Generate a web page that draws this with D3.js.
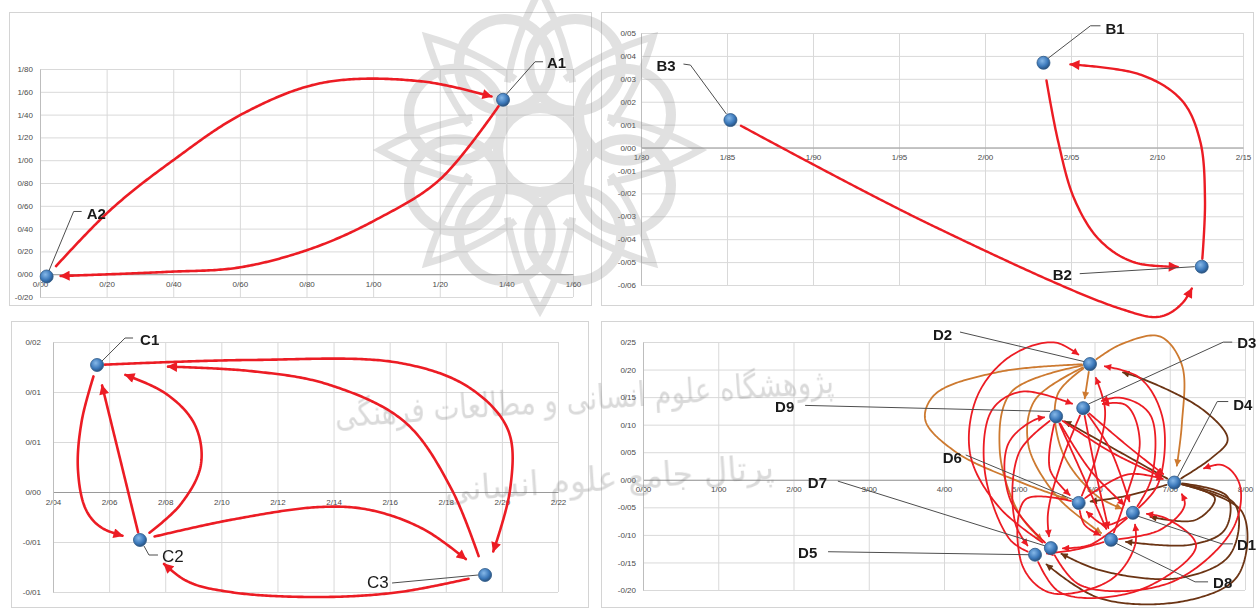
<!DOCTYPE html>
<html>
<head>
<meta charset="utf-8">
<script src="https://cdn.jsdelivr.net/npm/d3@7"></script>
<style>
  body { margin: 0; background: #ffffff; }
  svg { display: block; }
</style>
</head>
<body>
<svg id="chart" width="1258" height="609"></svg>
<script>
// ---------------- data ----------------
// Panel A
const pointsA = [
  { id: "A1", x: 1.39, y: 1.53 },
  { id: "A2", x: 0.02, y: -0.02 }
];
const xTicksA = [0, 0.2, 0.4, 0.6, 0.8, 1.0, 1.2, 1.4, 1.6];
const xLabelsA = ["0/00", "0/20", "0/40", "0/60", "0/80", "1/00", "1/20", "1/40", "1/60"];
const yTicksA = [-0.2, 0, 0.2, 0.4, 0.6, 0.8, 1.0, 1.2, 1.4, 1.6, 1.8];
const yLabelsA = ["-0/20", "0/00", "0/20", "0/40", "0/60", "0/80", "1/00", "1/20", "1/40", "1/60", "1/80"];
const edgesA = [
  { from: "A2", to: "A1", kind: "r", via: [[0.21, 0.56], [0.40, 1.00], [0.61, 1.41], [0.85, 1.68], [1.15, 1.69]], trim: [14, 12] },
  { from: "A1", to: "A2", kind: "r", via: [[1.20, 0.83], [1.01, 0.48], [0.82, 0.23], [0.60, 0.06], [0.38, 0.02]], trim: [8, 14] }
];

// Panel B
const pointsB = [
  { id: "B1", x: 2.034, y: 0.037 },
  { id: "B2", x: 2.126, y: -0.052 },
  { id: "B3", x: 1.852, y: 0.012 }
];
const xTicksB = [1.80, 1.85, 1.90, 1.95, 2.00, 2.05, 2.10, 2.15];
const xLabelsB = ["1/80", "1/85", "1/90", "1/95", "2/00", "2/05", "2/10", "2/15"];
const yTicksB = [-0.06, -0.05, -0.04, -0.03, -0.02, -0.01, 0, 0.01, 0.02, 0.03, 0.04, 0.05];
const yLabelsB = ["-0/06", "-0/05", "-0/04", "-0/03", "-0/02", "-0/01", "0/00", "0/01", "0/02", "0/03", "0/04", "0/05"];
const edgesB = [
  { from: "B3", to: "B2", kind: "r", via: [[1.967, -0.0332], [2.0785, -0.0703], [2.1017, -0.0738], [2.115, -0.0677]], trim: [12, 24] },
  { from: "B1", to: "B2", kind: "r", via: [[2.0424, 0.0031], [2.0523, -0.0231], [2.0669, -0.0406], [2.0872, -0.0502]], trim: [18, 24] },
  { from: "B2", to: "B1", kind: "r", via: [[2.1279, -0.0231], [2.1250, 0.0031], [2.1145, 0.0205], [2.0901, 0.0319]], trim: [8, 27] }
];

// Panel C
const pointsC = [
  { id: "C1", x: 2.0557, y: 0.0127 },
  { id: "C2", x: 2.071, y: -0.0048 },
  { id: "C3", x: 2.194, y: -0.0083 }
];
const xTicksC = [2.04, 2.06, 2.08, 2.10, 2.12, 2.14, 2.16, 2.18, 2.20, 2.22];
const xLabelsC = ["2/04", "2/06", "2/08", "2/10", "2/12", "2/14", "2/16", "2/18", "2/20", "2/22"];
const yTicksC = [-0.01, -0.005, 0, 0.005, 0.01, 0.015];
const yLabelsC = ["-0/01", "-0/01", "0/00", "0/01", "0/01", "0/02"];
const edgesC = [
  { from: "C1", to: "C2", kind: "r", via: [[2.0503, 0.0072], [2.0489, 0.0022], [2.0518, -0.0018], [2.0575, -0.0036]], trim: [12, 18] },
  { from: "C2", to: "C1", kind: "r", via: [], trim: [8, 21] },
  { from: "C2", to: "C1", kind: "r", via: [[2.0853, -0.0013], [2.0927, 0.0027], [2.0906, 0.0067], [2.0799, 0.0099]], trim: [12, 30] },
  { from: "C1", to: "C3", kind: "r", via: [[2.1102, 0.0132], [2.1637, 0.0129], [2.1886, 0.0104], [2.2022, 0.0062], [2.2029, 0.0002]], trim: [8, 25] },
  { from: "C3", to: "C1", kind: "r", via: [[2.1822, 0.0002], [2.1654, 0.0070], [2.1387, 0.0107], [2.1102, 0.0121]], trim: [20, 71] },
  { from: "C2", to: "C3", kind: "r", via: [[2.1031, -0.0028], [2.1352, -0.0015], [2.1530, -0.0018], [2.1726, -0.0038]], trim: [15, 25] },
  { from: "C3", to: "C2", kind: "r", via: [[2.1637, -0.0100], [2.1352, -0.0105], [2.1031, -0.0100], [2.0870, -0.0088]], trim: [17, 34] }
];

// Panel D
const pointsD = [
  { id: "D1", x: 6.51, y: -0.060 },
  { id: "D2", x: 5.94, y: 0.210 },
  { id: "D3", x: 5.85, y: 0.130 },
  { id: "D4", x: 7.06, y: -0.005 },
  { id: "D5", x: 5.21, y: -0.136 },
  { id: "D6", x: 5.79, y: -0.042 },
  { id: "D7", x: 5.42, y: -0.124 },
  { id: "D8", x: 6.22, y: -0.109 },
  { id: "D9", x: 5.49, y: 0.115 }
];
const xTicksD = [0, 1, 2, 3, 4, 5, 6, 7, 8];
const xLabelsD = ["0/00", "1/00", "2/00", "3/00", "4/00", "5/00", "6/00", "7/00", "8/00"];
const yTicksD = [-0.20, -0.15, -0.10, -0.05, 0, 0.05, 0.10, 0.15, 0.20, 0.25];
const yLabelsD = ["-0/20", "-0/15", "-0/10", "-0/05", "0/00", "0/05", "0/10", "0/15", "0/20", "0/25"];
const edgesD = [
  // from D2
  { from: "D2", to: "D3", kind: "o", via: [], trim: [8, 10] },
  { from: "D2", to: "D4", kind: "o", via: [[6.34, 0.245], [6.87, 0.26], [7.16, 0.209], [7.16, 0.10]], trim: [8, 17] },
  { from: "D2", to: "D6", kind: "o", via: [[4.74, 0.196], [3.88, 0.155], [3.75, 0.109], [4.15, 0.051], [5.01, -0.004]], trim: [8, 12] },
  { from: "D2", to: "D8", kind: "o", via: [[5.21, 0.145], [5.12, 0.064], [5.48, -0.027], [5.94, -0.082]], trim: [8, 12] },
  { from: "D2", to: "D1", kind: "o", via: [[5.51, 0.155], [5.56, 0.055], [6.01, -0.027]], trim: [8, 12] },
  { from: "D2", to: "D7", kind: "o", via: [[4.90, 0.16], [4.74, 0.055], [5.01, -0.064]], trim: [8, 12] },
  // from D4
  { from: "D4", to: "D2", kind: "b", via: [[7.56, 0.04], [7.77, 0.073], [7.47, 0.124], [6.60, 0.185]], trim: [8, 34] },
  { from: "D4", to: "D9", kind: "b", via: [], trim: [8, 10] },
  { from: "D4", to: "D6", kind: "b", via: [[6.40, -0.03]], trim: [8, 12] },
  { from: "D4", to: "D1", kind: "b", via: [[7.60, -0.033], [7.34, -0.073]], trim: [8, 18] },
  { from: "D4", to: "D8", kind: "b", via: [[7.77, -0.031], [7.73, -0.091], [7.27, -0.118]], trim: [8, 15] },
  { from: "D4", to: "D7", kind: "b", via: [[7.87, -0.045], [7.80, -0.136], [7.14, -0.178], [6.07, -0.164]], trim: [8, 12] },
  { from: "D4", to: "D5", kind: "b", via: [[7.96, -0.058], [7.91, -0.173], [7.27, -0.218], [6.07, -0.215]], trim: [8, 15] },
  // remaining flows
  { from: "D7", to: "D2", kind: "r", via: [[4.74, -0.051], [4.35, 0.045], [4.44, 0.151], [4.88, 0.224], [5.48, 0.249]], trim: [10, 15] },
  { from: "D1", to: "D2", kind: "r", via: [[6.84, -0.009], [6.91, 0.109], [6.60, 0.185]], trim: [8, 15] },
  { from: "D8", to: "D3", kind: "r", via: [[6.41, -0.036], [6.60, 0.073], [6.41, 0.136]], trim: [8, 20] },
  { from: "D1", to: "D3", kind: "r", via: [[6.76, 0.004], [6.74, 0.118], [6.34, 0.149]], trim: [8, 20] },
  { from: "D3", to: "D4", kind: "r", via: [[6.47, 0.058]], trim: [8, 14] },
  { from: "D9", to: "D4", kind: "r", via: [[6.21, 0.051]], trim: [8, 14] },
  { from: "D9", to: "D1", kind: "r", via: [[5.94, 0.018]], trim: [8, 12] },
  { from: "D3", to: "D8", kind: "r", via: [[6.01, 0.018]], trim: [8, 12] },
  { from: "D7", to: "D4", kind: "r", via: [[5.81, -0.191], [7.00, -0.187], [7.83, -0.091], [7.93, -0.009], [7.69, 0.027]], trim: [8, 33] },
  { from: "D6", to: "D2", kind: "r", via: [[6.01, 0.036], [6.14, 0.127]], trim: [8, 15] },
  { from: "D9", to: "D6", kind: "r", via: [[5.41, 0.018]], trim: [8, 12] },
  { from: "D3", to: "D7", kind: "r", via: [[5.57, 0.036], [5.38, -0.064]], trim: [8, 12] },
  { from: "D9", to: "D8", kind: "r", via: [[5.87, 0.0]], trim: [8, 12] },
  { from: "D6", to: "D4", kind: "r", via: [[6.45, 0.01]], trim: [8, 12] },
  { from: "D7", to: "D9", kind: "r", via: [[4.88, -0.036], [4.85, 0.064], [5.21, 0.109]], trim: [8, 12] },
  { from: "D5", to: "D3", kind: "r", via: [[4.88, -0.109], [4.54, 0.018], [4.64, 0.127], [5.04, 0.16]], trim: [8, 12] },
  { from: "D6", to: "D1", kind: "r", via: [[5.08, -0.036], [5.04, -0.155], [5.41, -0.205], [6.21, -0.182], [6.54, -0.118]], trim: [8, 12] },
  { from: "D1", to: "D7", kind: "r", via: [[5.94, -0.118]], trim: [8, 12] },
  { from: "D8", to: "D5", kind: "r", via: [[5.74, -0.127]], trim: [8, 12] },
  { from: "D3", to: "D1", kind: "r", via: [[6.21, 0.055]], trim: [8, 12] },
  { from: "D8", to: "D4", kind: "r", via: [[6.87, -0.091], [7.20, -0.045]], trim: [8, 14] },
  { from: "D6", to: "D8", kind: "r", via: [[5.87, -0.082]], trim: [8, 12] },
  { from: "D1", to: "D6", kind: "r", via: [[6.14, -0.082]], trim: [8, 12] },
  { from: "D5", to: "D1", kind: "r", via: [[5.55, -0.205], [6.60, -0.20], [7.35, -0.12], [6.95, -0.07]], trim: [8, 14] },
  { from: "D9", to: "D5", kind: "r", via: [[5.00, 0.05], [4.95, -0.08]], trim: [8, 12] }
];

// ---------------- layout ----------------
const panels = [
  { key: "A", frame: [9, 12, 582, 293], plot: [40, 69, 573, 297], xDomain: [0, 1.6], yDomain: [-0.2, 1.8],
    xTicks: xTicksA, xLabels: xLabelsA, yTicks: yTicksA, yLabels: yLabelsA, yGap: 7,
    points: pointsA, edges: edgesA, lineW: 2.6, head: "l" },
  { key: "B", frame: [601, 12, 652, 293], plot: [641, 33, 1243, 285], xDomain: [1.80, 2.15], yDomain: [-0.06, 0.05],
    xTicks: xTicksB, xLabels: xLabelsB, yTicks: yTicksB, yLabels: yLabelsB, yGap: 5,
    points: pointsB, edges: edgesB, lineW: 2.4, head: "l" },
  { key: "C", frame: [11, 321, 577, 286], plot: [53, 342, 558, 592], xDomain: [2.04, 2.22], yDomain: [-0.01, 0.015],
    xTicks: xTicksC, xLabels: xLabelsC, yTicks: yTicksC, yLabels: yLabelsC, yGap: 12,
    points: pointsC, edges: edgesC, lineW: 2.6, head: "l" },
  { key: "D", frame: [601, 321, 652, 286], plot: [643, 342, 1245, 590], xDomain: [0, 8], yDomain: [-0.2, 0.25],
    xTicks: xTicksD, xLabels: xLabelsD, yTicks: yTicksD, yLabels: yLabelsD, yGap: 7,
    points: pointsD, edges: edgesD, lineW: 1.8, head: "s" }
];

// label placement relative to each point: text offset, leader polyline (from label side toward the point)
const labelLayout = {
  A1: { t: [44, -32], lead: [[40, -38], [32, -38], [2, -4]], bold: true },
  A2: { t: [40, -57], lead: [[35, -65], [27, -65], [2, -5]], bold: true },
  B1: { t: [62, -29], lead: [[57, -37], [47, -37], [4, -4]], bold: true },
  B2: { t: [-149, 13], lead: [[-122, 7], [-7, 0]], bold: true },
  B3: { t: [-74, -49], lead: [[-47, -56], [-40, -55], [-4, -6]], bold: true },
  C1: { t: [43, -20], lead: [[36, -27], [28, -27], [4, -3]], bold: true },
  C2: { t: [22, 22], lead: [[18, 15], [9, 15], [4, 6]], bold: false },
  C3: { t: [-118, 13], lead: [[-93, 8], [-7, 0]], bold: false },
  D1: { t: [104, 37], lead: [[100, 31], [89, 31], [4, 3]], bold: true },
  D2: { t: [-157, -24], lead: [[-130, -32], [-4, -2]], bold: true },
  D3: { t: [154, -60], lead: [[149, -66], [140, -66], [5, -4]], bold: true },
  D4: { t: [59, -73], lead: [[54, -81], [43, -81], [3, -5]], bold: true },
  D5: { t: [-237, 3], lead: [[-207, -3], [-6, 0]], bold: true },
  D6: { t: [-136, -40], lead: [[-113, -48], [-5, -3]], bold: true },
  D7: { t: [-243, -60], lead: [[-213, -67], [-5, -2]], bold: true },
  D8: { t: [102, 48], lead: [[97, 42], [84, 42], [4, 3]], bold: true },
  D9: { t: [-281, -4], lead: [[-251, -11], [-6, -5]], bold: true }
};

const colors = { r: "#ec1c24", o: "#cd7a30", b: "#6b3414" };

// ---------------- drawing ----------------
const svg = d3.select("#chart");
const defs = svg.append("defs");

// arrow heads: large for the three simple panels, small for the dense one
const headSizes = { l: [11, 10], s: [8, 7] };
Object.entries(colors).forEach(([k, c]) => {
  Object.entries(headSizes).forEach(([s, [w, h]]) => {
    defs.append("marker")
      .attr("id", `arr-${k}-${s}`)
      .attr("viewBox", "0 0 10 10")
      .attr("refX", 9).attr("refY", 5)
      .attr("markerUnits", "userSpaceOnUse")
      .attr("markerWidth", w).attr("markerHeight", h)
      .attr("orient", "auto")
      .append("path").attr("d", "M0,0L10,5L0,10z").attr("fill", c);
  });
});

const grad = defs.append("radialGradient").attr("id", "dot")
  .attr("cx", "40%").attr("cy", "35%").attr("r", "65%");
grad.append("stop").attr("offset", "0%").attr("stop-color", "#86b8e8");
grad.append("stop").attr("offset", "65%").attr("stop-color", "#3b78ba");
grad.append("stop").attr("offset", "100%").attr("stop-color", "#2a5380");

svg.append("rect").attr("width", 1258).attr("height", 609).attr("fill", "#ffffff");

const layerFrames = svg.append("g");
const layerWater = svg.append("g").attr("opacity", 0.26);
const layerMarks = svg.append("g");

// scales per panel
panels.forEach(p => {
  const [px0, py0, px1, py1] = p.plot;
  p.xs = d3.scaleLinear().domain(p.xDomain).range([px0, px1]);
  p.ys = d3.scaleLinear().domain(p.yDomain).range([py1, py0]);
  p.byId = new Map(p.points.map(d => [d.id, d]));

  const g = layerFrames.append("g");
  g.append("rect")
    .attr("x", p.frame[0] + 0.5).attr("y", p.frame[1] + 0.5)
    .attr("width", p.frame[2]).attr("height", p.frame[3])
    .attr("fill", "#ffffff").attr("stroke", "#d4d4d4");

  // gridlines via axes with full-length ticks
  g.append("g")
    .attr("transform", `translate(0,${py1})`)
    .call(d3.axisBottom(p.xs).tickValues(p.xTicks).tickSize(-(py1 - py0)).tickFormat(""))
    .call(a => a.select(".domain").remove())
    .call(a => a.selectAll("line").attr("stroke", "#d9d9d9"));
  g.append("g")
    .attr("transform", `translate(${px0},0)`)
    .call(d3.axisLeft(p.ys).tickValues(p.yTicks).tickSize(-(px1 - px0)).tickFormat(""))
    .call(a => a.select(".domain").remove())
    .call(a => a.selectAll("line").attr("stroke", "#d9d9d9"));

  // zero line with category labels beneath
  const xAxis = d3.axisBottom(p.xs).tickValues(p.xTicks).tickSize(0).tickPadding(7)
    .tickFormat((d, i) => p.xLabels[i]);
  g.append("g")
    .attr("transform", `translate(0,${p.ys(0)})`)
    .call(xAxis)
    .call(a => a.select(".domain").attr("stroke", "#9a9a9a"))
    .call(a => a.selectAll("text").attr("fill", "#4a4a4a").attr("font-size", 8)
      .attr("font-family", "Liberation Sans, Arial, sans-serif"));

  const yAxis = d3.axisLeft(p.ys).tickValues(p.yTicks).tickSize(0).tickPadding(p.yGap)
    .tickFormat((d, i) => p.yLabels[i]);
  g.append("g")
    .attr("transform", `translate(${px0},0)`)
    .call(yAxis)
    .call(a => a.select(".domain").attr("stroke", "#bdbdbd"))
    .call(a => a.selectAll("text").attr("fill", "#4a4a4a").attr("font-size", 8)
      .attr("font-family", "Liberation Sans, Arial, sans-serif"));
});

// background emblem and institute name
(function drawWatermark() {
  const cx = 540, cy = 150;
  const wg = layerWater.append("g").attr("fill", "none").attr("stroke", "#8c8c8c").attr("stroke-width", 10);
  wg.append("circle").attr("cx", cx).attr("cy", cy).attr("r", 42);
  d3.range(8).forEach(k => {
    const a = k * Math.PI / 4 + Math.PI / 8;
    wg.append("circle")
      .attr("cx", cx + 92 * Math.cos(a)).attr("cy", cy + 92 * Math.sin(a)).attr("r", 46);
    const b = k * Math.PI / 4;
    const tip = [cx + 160 * Math.cos(b), cy + 160 * Math.sin(b)];
    const l = [cx + 75 * Math.cos(b - 0.45), cy + 75 * Math.sin(b - 0.45)];
    const r = [cx + 75 * Math.cos(b + 0.45), cy + 75 * Math.sin(b + 0.45)];
    wg.append("path")
      .attr("d", `M${l[0]},${l[1]} Q${cx + 120 * Math.cos(b - 0.2)},${cy + 120 * Math.sin(b - 0.2)} ${tip[0]},${tip[1]} Q${cx + 120 * Math.cos(b + 0.2)},${cy + 120 * Math.sin(b + 0.2)} ${r[0]},${r[1]}`)
      .attr("stroke-width", 7);
  });
  layerWater.append("text")
    .attr("x", 585).attr("y", 410).attr("text-anchor", "middle")
    .attr("transform", "rotate(-4 585 410)")
    .attr("font-family", "DejaVu Sans, Noto Sans, sans-serif").attr("font-size", 34)
    .attr("fill", "#707070").attr("direction", "rtl")
    .attr("textLength", 500).attr("lengthAdjust", "spacingAndGlyphs")
    .text("پژوهشگاه علوم انسانی و مطالعات فرهنگی");
  layerWater.append("text")
    .attr("x", 610).attr("y", 490).attr("text-anchor", "middle")
    .attr("transform", "rotate(-4 610 490)")
    .attr("font-family", "DejaVu Sans, Noto Sans, sans-serif").attr("font-size", 34)
    .attr("fill", "#707070").attr("direction", "rtl")
    .attr("textLength", 330).attr("lengthAdjust", "spacingAndGlyphs")
    .text("پرتال جامع علوم انسانی");
})();

// curved flow arrows, trimmed near their end nodes
const curve = d3.line().curve(d3.curveCatmullRom.alpha(0.5));
function trimmed(pts, s0, s1) {
  const tmp = svg.append("path").attr("d", curve(pts)).attr("fill", "none");
  const node = tmp.node();
  const L = node.getTotalLength();
  const a = Math.min(s0, L * 0.3), b = Math.max(L - s1, a + 2);
  const n = Math.max(8, Math.ceil((b - a) / 2));
  const out = d3.range(n + 1).map(i => {
    const q = node.getPointAtLength(a + (b - a) * i / n);
    return [q.x, q.y];
  });
  tmp.remove();
  return out;
}

panels.forEach(p => {
  const g = layerMarks.append("g");
  const edgeG = g.append("g").attr("fill", "none");
  p.edges.forEach(e => {
    const s = p.byId.get(e.from), t = p.byId.get(e.to);
    const pts = [[p.xs(s.x), p.ys(s.y)], ...e.via.map(v => [p.xs(v[0]), p.ys(v[1])]), [p.xs(t.x), p.ys(t.y)]];
    edgeG.append("path")
      .attr("d", d3.line()(trimmed(pts, e.trim[0], e.trim[1])))
      .attr("stroke", colors[e.kind])
      .attr("stroke-width", p.lineW)
      .attr("stroke-linecap", "round")
      .attr("marker-end", `url(#arr-${e.kind}-${p.head})`);
  });

  // leader lines
  g.append("g").selectAll("path").data(p.points).join("path")
    .attr("d", d => {
      const L = labelLayout[d.id];
      const cx = p.xs(d.x), cy = p.ys(d.y);
      return d3.line()(L.lead.map(o => [cx + o[0], cy + o[1]]));
    })
    .attr("fill", "none").attr("stroke", "#4d4d4d").attr("stroke-width", 1);

  // points
  g.append("g").selectAll("circle").data(p.points).join("circle")
    .attr("cx", d => p.xs(d.x)).attr("cy", d => p.ys(d.y))
    .attr("r", 6.5)
    .attr("fill", "url(#dot)")
    .attr("stroke", "#2d5987").attr("stroke-width", 0.8);

  // point names
  g.append("g").selectAll("text").data(p.points).join("text")
    .attr("x", d => p.xs(d.x) + labelLayout[d.id].t[0])
    .attr("y", d => p.ys(d.y) + labelLayout[d.id].t[1])
    .attr("font-family", "Liberation Sans, Arial, sans-serif")
    .attr("font-size", d => labelLayout[d.id].bold ? 15 : 17)
    .attr("font-weight", d => labelLayout[d.id].bold ? "bold" : "normal")
    .attr("fill", "#1a1a1a")
    .text(d => d.id);
});
</script>
</body>
</html>
